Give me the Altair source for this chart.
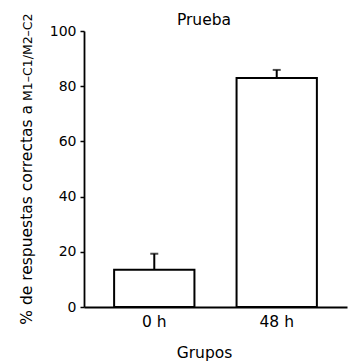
import altair as alt
import pandas as pd

groups = ["0 h", "48 h"]
means = [13.5, 83.0]
errors = [5.8, 2.9]

df = pd.DataFrame({"grupo": groups, "media": means, "err": errors})
df["top"] = df["media"] + df["err"]

FONT = "DejaVu Sans"

xenc = alt.X("grupo:N", sort=groups,
             scale=alt.Scale(paddingInner=0.344, paddingOuter=0.246),
             axis=alt.Axis(title="Grupos", labelAngle=0, ticks=False,
                           labelFontSize=15.5, labelColor="black", labelPadding=7,
                           titleFontSize=15.5, titleFontWeight="normal", titleColor="black",
                           titlePadding=16, titleX=120, domainColor="black",
                           domainWidth=1.8, labelFont=FONT, titleFont=FONT))
yscale = alt.Scale(domain=[0, 100], nice=False)

bars = alt.Chart(df).mark_bar(fill="white", stroke="black", strokeWidth=2).encode(
    x=xenc,
    y=alt.Y("media:Q", scale=yscale,
            axis=alt.Axis(title=None, values=[0, 20, 40, 60, 80, 100], tickSize=4,
                          tickColor="black", tickWidth=1.5, domainColor="black",
                          domainWidth=1.8, labelFontSize=14, labelColor="black",
                          labelPadding=4, grid=False, labelFont=FONT)),
)

rule = alt.Chart(df).mark_rule(color="black", strokeWidth=2).encode(
    x=alt.X("grupo:N", sort=groups),
    y=alt.Y("media:Q", scale=yscale),
    y2="top:Q",
)

cap = alt.Chart(df).mark_tick(color="black", thickness=2, size=8).encode(
    x=alt.X("grupo:N", sort=groups),
    y=alt.Y("top:Q", scale=yscale),
)

tdf = pd.DataFrame({"a": ["% de respuestas correctas a"], "b": ["M1–C1/M2–C2"],
                    "t": ["Prueba"]})
ytitle_main = alt.Chart(tdf).mark_text(angle=270, align="right", baseline="alphabetic",
                                       fontSize=15.5, font=FONT, color="black").encode(
    text="a:N", x=alt.value(-52), y=alt.value(74))
ytitle_small = alt.Chart(tdf).mark_text(angle=270, align="left", baseline="alphabetic",
                                        fontSize=12.5, font=FONT, color="black").encode(
    text="b:N", x=alt.value(-52), y=alt.value(70))
title = alt.Chart(tdf).mark_text(align="center", baseline="alphabetic",
                                 fontSize=15.5, font=FONT, color="black").encode(
    text="t:N", x=alt.value(120), y=alt.value(-6))

chart = alt.layer(bars, rule, cap, ytitle_main, ytitle_small, title).properties(
    width=263, height=276,
    autosize=alt.AutoSizeParams(type="none"),
    padding={"left": 84, "top": 31, "right": 1, "bottom": 55},
).configure_view(stroke=None)

chart.save("out.html", embed_options={"renderer": "svg", "actions": False})
